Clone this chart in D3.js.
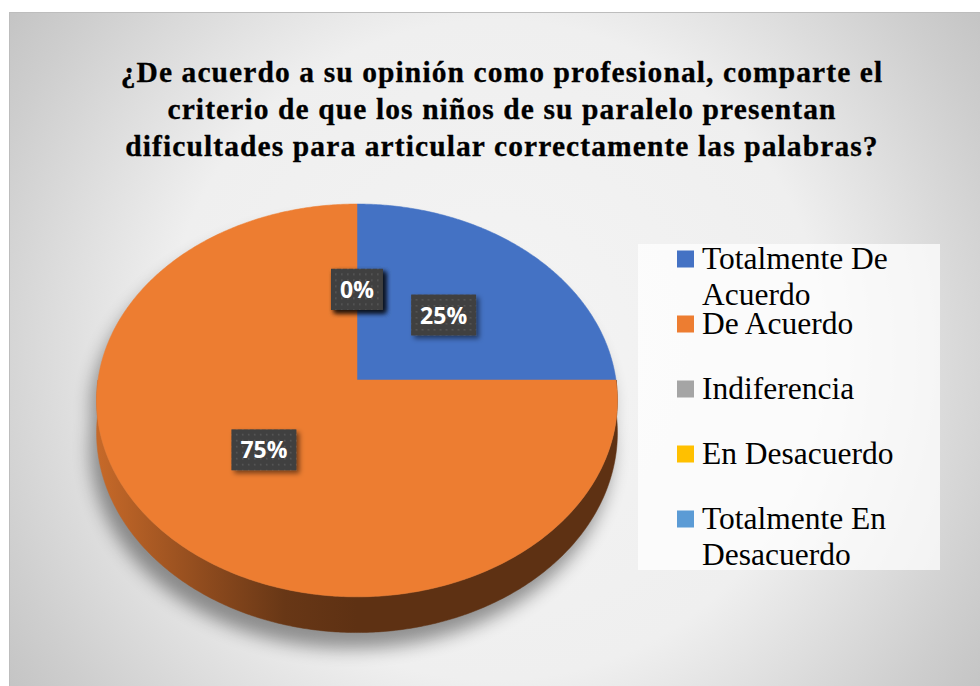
<!DOCTYPE html>
<html><head><meta charset="utf-8">
<script src="https://cdn.jsdelivr.net/npm/d3@7"></script>
<style>html,body{margin:0;padding:0;background:#fff;} svg{display:block;}</style>
</head><body>
<svg id="chart" width="980" height="686"></svg>
<script>
// ---- data ----
const categories = ["Totalmente De Acuerdo", "De Acuerdo", "Indiferencia", "En Desacuerdo", "Totalmente En Desacuerdo"];
const values = [25, 75, 0, 0, 0];
const colors = ["#4472C4", "#ED7D31", "#A5A5A5", "#FFC000", "#5B9BD5"];
const titleLines = [
  "¿De acuerdo a su opinión como profesional, comparte el",
  "criterio de que los niños de su paralelo presentan",
  "dificultades para articular correctamente las palabras?"
];

const data = categories.map((c, i) => ({ name: c, value: values[i], color: colors[i] }));
const total = d3.sum(values);
const pct = d3.format(".0%");

const svg = d3.select("#chart");
const defs = svg.append("defs");

// background gradient
const bg = defs.append("radialGradient").attr("id", "bg")
  .attr("gradientUnits", "userSpaceOnUse").attr("cx", 495).attr("cy", 350).attr("r", 600);
[[0, "#f4f4f4"], [0.55, "#efefef"], [0.77, "#d9d9d9"], [0.88, "#cecece"], [1, "#c3c3c3"]]
  .forEach(s => bg.append("stop").attr("offset", s[0]).attr("stop-color", s[1]));
svg.append("rect").attr("x", 9.5).attr("y", 12.5).attr("width", 990).attr("height", 700)
  .attr("fill", "url(#bg)").attr("stroke", "#bdbdbd");

// filters & patterns
const sh = defs.append("filter").attr("id", "pieShadow").attr("x", "-20%").attr("y", "-20%").attr("width", "140%").attr("height", "140%");
sh.append("feGaussianBlur").attr("stdDeviation", 9);
const ds = defs.append("filter").attr("id", "boxShadow").attr("x", "-30%").attr("y", "-30%").attr("width", "170%").attr("height", "170%");
ds.append("feDropShadow").attr("dx", 3).attr("dy", 3).attr("stdDeviation", 2.5).attr("flood-color", "#000").attr("flood-opacity", 0.5);
const pat = defs.append("pattern").attr("id", "dots").attr("patternUnits", "userSpaceOnUse").attr("width", 6).attr("height", 6);
pat.append("rect").attr("width", 6).attr("height", 6).attr("fill", "#404040");
pat.append("rect").attr("x", 2).attr("y", 2).attr("width", 1.6).attr("height", 1.6).attr("fill", "#575757");

// title
svg.append("g").selectAll("text").data(titleLines).join("text")
  .attr("x", 502).attr("y", (d, i) => 82 + i * 37)
  .attr("text-anchor", "middle")
  .attr("font-family", "'Liberation Serif','Times New Roman',serif")
  .attr("font-weight", "bold")
  .attr("font-size", 29.5).attr("fill", "#000")
  .attr("stroke", "#000").attr("stroke-width", 0.3).attr("paint-order", "stroke")
  .attr("letter-spacing", 1.1)
  .text(d => d);

// ---- 3D pie geometry (perspective projection of a tilted disc) ----
const geo = { cx: 357, cy: 380, S: 259, K: 194.3, c: 0.104, T: 32 };
function proj(phi, t, depth) {
  const X = t * Math.sin(phi), Z = t * Math.cos(phi);
  const p = 1 / (1 + geo.c * Z);
  return [geo.cx + geo.S * X * p, geo.cy - geo.K * Z * p + geo.T * depth * p];
}
function samples(a0, a1) {
  const n = Math.max(2, Math.ceil(Math.abs(a1 - a0) / 0.01));
  return d3.range(n + 1).map(i => a0 + (a1 - a0) * i / n);
}
const line = d3.line();
const arcs = d3.pie().sort(null).value(d => d.value)(data);

// shadow silhouette
const silhouette = samples(-Math.PI / 2, Math.PI / 2).map(a => proj(a, 1, 0))
  .concat(samples(Math.PI / 2, 3 * Math.PI / 2).map(a => proj(a, 1, 1)));
svg.append("path").attr("d", line(silhouette) + "Z")
  .attr("transform", "translate(-6,16)")
  .attr("fill", "#000").attr("opacity", 0.4).attr("filter", "url(#pieShadow)");

// wall gradients
arcs.forEach((a, i) => {
  const g = defs.append("linearGradient").attr("id", "wall" + i)
    .attr("gradientUnits", "userSpaceOnUse")
    .attr("x1", geo.cx - geo.S).attr("x2", geo.cx + geo.S).attr("y1", 0).attr("y2", 0);
  [[0, 0.5], [0.22, 1.5], [0.36, 2.3], [0.5, 2.6], [1, 2.6]].forEach(s =>
    g.append("stop").attr("offset", s[0]).attr("stop-color", d3.color(a.data.color).darker(s[1])));
});

// outer walls (front half only)
const walls = svg.append("g");
arcs.forEach((a, i) => {
  const a0 = Math.max(a.startAngle, Math.PI / 2), a1 = Math.min(a.endAngle, 3 * Math.PI / 2);
  if (a1 <= a0) return;
  const pts = samples(a0, a1).map(t => proj(t, 1, 0))
    .concat(samples(a1, a0).map(t => proj(t, 1, 1)));
  walls.append("path").attr("d", line(pts) + "Z").attr("fill", `url(#wall${i})`)
    .attr("stroke", `url(#wall${i})`).attr("stroke-width", 0.5);
});

// top faces
const tops = svg.append("g");
arcs.forEach(a => {
  if (a.endAngle <= a.startAngle) return;
  const pts = [proj(0, 0, 0)].concat(samples(a.startAngle, a.endAngle).map(t => proj(t, 1, 0)));
  tops.append("path").attr("d", line(pts) + "Z").attr("fill", a.data.color)
    .attr("stroke", a.data.color).attr("stroke-width", 0.5);
});

// data labels
const labels = svg.append("g");
arcs.forEach(a => {
  const mid = (a.startAngle + a.endAngle) / 2;
  const [x, y] = proj(mid, 0.49, 0);
  const g = labels.append("g").attr("transform", `translate(${x},${y})`);
  const box = g.append("rect").attr("fill", "url(#dots)").attr("filter", "url(#boxShadow)");
  const txt = g.append("text").attr("text-anchor", "middle").attr("y", 8.5)
    .attr("font-family", "'Open Sans',sans-serif").attr("font-weight", "bold")
    .attr("font-size", 23).attr("fill", "#fff").text(pct(a.data.value / total));
  const w = txt.node().getComputedTextLength() + 18;
  box.attr("x", -w / 2).attr("y", -20.5).attr("width", w).attr("height", 41);
});

// legend
const lg = svg.append("g");
lg.append("rect").attr("x", 638).attr("y", 244).attr("width", 302).attr("height", 326)
  .attr("fill", "#fff").attr("opacity", 0.72);
const maxW = 236;
data.forEach((d, i) => {
  const base = 269 + i * 65;
  lg.append("rect").attr("x", 677).attr("y", base - 18.5).attr("width", 17).attr("height", 17).attr("fill", d.color);
  const t = lg.append("text").attr("font-family", "'Liberation Serif','Times New Roman',serif")
    .attr("font-size", 31.5).attr("fill", "#000");
  const words = d.name.split(" ");
  let lineWords = [], lineNo = 0;
  let ts = t.append("tspan").attr("x", 702).attr("y", base);
  words.forEach(w => {
    lineWords.push(w);
    ts.text(lineWords.join(" "));
    if (ts.node().getComputedTextLength() > maxW && lineWords.length > 1) {
      lineWords.pop();
      ts.text(lineWords.join(" "));
      lineWords = [w];
      lineNo++;
      ts = t.append("tspan").attr("x", 702).attr("y", base + lineNo * 36).text(w);
    }
  });
});
</script>
</body></html>
